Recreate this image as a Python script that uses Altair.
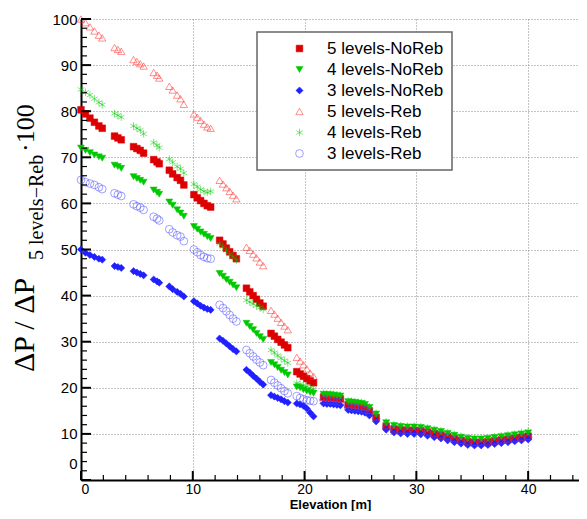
import altair as alt
import pandas as pd

# ---- data ----
elevation = [0, 0.4, 0.8, 1.2, 1.6, 1.9, 3.0, 3.3, 3.6, 4.7, 5.0, 5.3, 5.6, 6.5, 6.8, 7.0,
             7.9, 8.2, 8.6, 8.9, 9.2, 10.1, 10.4, 10.7, 11.0, 11.3, 11.6,
             12.4, 12.7, 13.0, 13.3, 13.6, 13.9, 14.8, 15.1, 15.4, 15.7, 16.0, 16.3,
             17.0, 17.3, 17.6, 17.9, 18.2, 18.5, 19.3, 19.6, 19.9, 20.2, 20.5, 20.8,
             21.7, 22.0, 22.3, 22.6, 22.9, 23.2, 23.9, 24.2, 24.5, 24.8, 25.1, 25.4,
             25.8, 26.4, 27.3, 28.0, 28.6, 29.2, 29.8, 30.4, 31.0, 31.6, 32.2, 32.8,
             33.4, 34.0, 34.6, 35.2, 35.8, 36.4, 37.0, 37.6, 38.2, 38.8, 39.4, 40.0]

series_names = ["5 levels-NoReb", "4 levels-NoReb", "3 levels-NoReb",
                "5 levels-Reb", "4 levels-Reb", "3 levels-Reb"]

l5_noreb = [80.3, 79.4, 78.5, 77.6, 76.8, 76.3, 74.6, 74.2, 73.8, 72.3, 71.9, 71.5, 70.9,
            69.5, 69.0, 68.6, 67.2, 66.4, 65.6, 65.0, 64.0, 61.9, 61.2, 60.6, 60.0, 59.5, 59.2,
            52.0, 51.2, 50.3, 49.5, 48.7, 48.0, 41.6, 40.8, 40.0, 39.2, 38.4, 37.7,
            31.8, 31.2, 30.5, 29.9, 29.3, 28.7, 23.5, 23.0, 22.5, 22.0, 21.5, 21.1,
            18.0, 17.9, 17.9, 17.8, 17.7, 17.6, 16.3, 16.2, 16.1, 16.0, 15.9, 15.7,
            15.0, 13.6, 11.7, 11.1, 10.9, 10.8, 10.8, 10.7, 10.4, 10.1, 9.8, 9.4,
            9.0, 8.6, 8.3, 8.2, 8.2, 8.3, 8.5, 8.7, 8.9, 9.1, 9.3, 9.5]

l4_noreb = [72.0, 71.5, 71.0, 70.5, 70.1, 69.8, 68.3, 68.0, 67.6, 65.8, 65.4, 65.0, 64.6,
            62.9, 62.4, 62.0, 60.3, 59.6, 58.6, 57.9, 57.2, 55.0, 54.4, 53.8, 53.3, 52.8, 52.4,
            44.8, 44.2, 43.5, 42.9, 42.3, 41.7, 34.0, 33.3, 32.6, 31.8, 31.1, 30.5,
            25.5, 25.0, 24.4, 23.8, 23.3, 22.8, 20.2, 20.0, 19.6, 19.3, 19.0, 18.8,
            18.6, 18.5, 18.5, 18.4, 18.3, 18.2, 17.0, 16.9, 16.8, 16.7, 16.6, 16.4,
            15.7, 14.3, 12.4, 11.8, 11.6, 11.5, 11.5, 11.4, 11.1, 10.8, 10.5, 10.1,
            9.7, 9.3, 9.0, 8.9, 8.9, 9.0, 9.2, 9.4, 9.6, 9.8, 10.0, 10.2]

l3_noreb = [50.0, 49.3, 48.8, 48.4, 48.0, 47.8, 46.4, 46.2, 46.0, 45.3, 45.0, 44.7, 44.4,
            43.5, 43.1, 42.8, 42.0, 41.4, 40.8, 40.4, 39.8, 38.8, 38.3, 37.8, 37.4, 37.1, 36.9,
            30.7, 30.2, 29.6, 29.0, 28.4, 27.9, 23.9, 23.3, 22.6, 22.0, 21.3, 20.7,
            18.4, 18.1, 17.8, 17.5, 17.1, 16.8, 16.6, 16.4, 16.1, 15.5, 14.6, 13.8,
            16.6, 16.5, 16.5, 16.4, 16.3, 16.2, 15.2, 15.1, 15.0, 14.9, 14.8, 14.6,
            14.0, 12.7, 10.9, 10.3, 10.1, 10.0, 10.0, 9.9, 9.6, 9.3, 9.0, 8.6,
            8.2, 7.9, 7.6, 7.5, 7.5, 7.6, 7.8, 8.0, 8.2, 8.4, 8.6, 8.8]

l5_reb = [100.0, 99.2, 98.3, 97.4, 96.5, 95.9, 93.8, 93.4, 93.0, 91.2, 90.8, 90.3, 89.8,
          88.4, 87.8, 87.2, 85.4, 84.6, 83.5, 82.7, 81.5, 79.4, 78.7, 78.0, 77.2, 76.6, 76.3,
          65.0, 64.2, 63.4, 62.6, 61.8, 61.0, 50.5, 49.8, 49.0, 48.2, 47.3, 46.5,
          36.8, 36.0, 35.1, 34.2, 33.4, 32.6, 26.6, 25.8, 25.0, 24.1, 23.2, 22.5,
          18.0, 17.9, 17.8, 17.8, 17.7, 17.6, 16.4, 16.3, 16.2, 16.1, 16.0, 15.8,
          15.1, 13.7, 11.8, 11.1, 10.9, 10.8, 10.8, 10.7, 10.4, 10.1, 9.7, 9.4,
          9.0, 8.6, 8.3, 8.2, 8.2, 8.3, 8.5, 8.7, 8.9, 9.1, 9.3, 9.5]

l4_reb = [84.7, 84.1, 83.5, 82.7, 81.9, 81.4, 79.5, 79.1, 78.7, 76.8, 76.3, 75.9, 75.1,
          73.2, 72.6, 72.1, 69.6, 68.9, 68.0, 67.5, 66.6, 64.2, 63.6, 63.0, 62.6, 62.4, 62.6,
          51.3, 50.6, 49.8, 49.0, 48.4, 47.7, 39.0, 38.6, 38.2, 37.8, 37.4, 37.0,
          28.2, 27.6, 27.0, 26.4, 25.9, 25.4, 21.0, 20.8, 20.5, 20.3, 20.0, 19.8,
          18.8, 18.7, 18.7, 18.6, 18.5, 18.4, 17.2, 17.1, 17.0, 16.9, 16.8, 16.6,
          15.9, 14.5, 12.6, 12.0, 11.8, 11.7, 11.7, 11.6, 11.3, 11.0, 10.7, 10.3,
          9.9, 9.5, 9.2, 9.1, 9.1, 9.2, 9.4, 9.6, 9.8, 10.0, 10.3, 10.6]

l3_reb = [65.1, 64.6, 64.3, 64.0, 63.5, 63.1, 62.2, 61.9, 61.6, 59.8, 59.4, 59.1, 58.6,
          57.1, 56.7, 56.3, 54.4, 53.7, 53.1, 52.8, 51.8, 50.0, 49.4, 48.8, 48.4, 48.1, 48.0,
          38.0, 37.3, 36.6, 35.8, 35.0, 34.4, 28.2, 27.5, 26.8, 26.1, 25.5, 24.9,
          21.7, 21.1, 20.5, 19.9, 19.3, 18.8, 18.2, 17.8, 17.5, 17.3, 17.2, 17.1,
          17.3, 17.2, 17.2, 17.1, 17.0, 16.9, 15.8, 15.7, 15.6, 15.5, 15.4, 15.2,
          14.6, 13.3, 11.4, 10.8, 10.6, 10.5, 10.5, 10.4, 10.1, 9.8, 9.5, 9.1,
          8.7, 8.3, 8.0, 7.9, 7.9, 8.0, 8.2, 8.4, 8.6, 8.8, 9.0, 9.2]

x_ticks = [0, 10, 20, 30, 40]
y_ticks = [0, 10, 20, 30, 40, 50, 60, 70, 80, 90, 100]
x_minor = [2, 4, 6, 8, 12, 14, 16, 18, 22, 24, 26, 28, 32, 34, 36, 38, 42, 44]
y_minor = [2, 4, 6, 8, 12, 14, 16, 18, 22, 24, 26, 28, 32, 34, 36, 38, 42, 44, 46, 48,
           52, 54, 56, 58, 62, 64, 66, 68, 72, 74, 76, 78, 82, 84, 86, 88, 92, 94, 96, 98]

all_series = [l5_noreb, l4_noreb, l3_noreb, l5_reb, l4_reb, l3_reb]
for s in all_series:
    assert len(s) == len(elevation), len(s)

rows = []
for name, vals in zip(series_names, all_series):
    for e, v in zip(elevation, vals):
        rows.append({"elev": e, "val": v, "series": name})
df = pd.DataFrame(rows)

# ---- styling ----
W, H = 498, 461
FONT = "Liberation Sans"
SERIF = "Liberation Serif"
asterisk = "M0,-1L0,1M-0.87,-0.5L0.87,0.5M-0.87,0.5L0.87,-0.5"
shapes = ["square", "triangle-down", "diamond", "triangle-up", asterisk, "circle"]
strokes = ["#dd0000", "#00c800", "#1f1fff", "#ff2020", "#00c800", "#4040ff"]
fills = ["#dd0000", "#00c800", "#1f1fff", "transparent", "transparent", "transparent"]
sizes = [45, 60, 60, 100, 70, 100]
widths = [0.5, 0.5, 0.5, 1.3, 1.6, 1.2]

xs = alt.Scale(domain=[0, 44.55], nice=False, zero=False)
ys = alt.Scale(domain=[0, 100], nice=False)

pad = "\u00a0" * 9
legend = alt.Legend(
    title=None, orient="none", legendX=176, legendY=13,
    fillColor="white", strokeColor="#666666", padding=8,
    symbolOffset=26, labelOffset=19, labelFontSize=17, labelFont=FONT,
    labelColor="black", rowPadding=3, labelLimit=400,
    labelExpr="datum.label + '" + pad + "'",
)

pts = alt.Chart(df).mark_point(opacity=1).encode(
    x=alt.X("elev:Q", scale=xs, axis=alt.Axis(
        values=x_ticks, grid=True, gridDash=[1, 2], gridColor="#8a8a8a", gridWidth=1,
        ticks=False, domainColor="black", domainWidth=2,
        labelFont=FONT, labelFontSize=14, labelColor="black", labelPadding=2,
        title="Elevation [m]", titleFont=FONT, titleFontSize=13, titleFontWeight="bold",
        titleColor="black", titleY=28, titleBaseline="alphabetic")),
    y=alt.Y("val:Q", scale=ys, axis=alt.Axis(
        values=y_ticks, grid=True, gridDash=[1, 2], gridColor="#8a8a8a", gridWidth=1,
        ticks=False, domainColor="black", domainWidth=2,
        labelFont=FONT, labelFontSize=15, labelColor="black", labelPadding=4,
        labelOffset=alt.expr("datum.value == 0 ? -17 : 0"), title=None)),
    shape=alt.Shape("series:N", scale=alt.Scale(domain=series_names, range=shapes), legend=legend),
    stroke=alt.Stroke("series:N", scale=alt.Scale(domain=series_names, range=strokes), legend=legend),
    fill=alt.Fill("series:N", scale=alt.Scale(domain=series_names, range=fills), legend=legend),
    size=alt.Size("series:N", scale=alt.Scale(domain=series_names, range=sizes), legend=legend),
    strokeWidth=alt.StrokeWidth("series:N", scale=alt.Scale(domain=series_names, range=widths), legend=legend),
)

ymaj = alt.Chart(pd.DataFrame({"v": y_ticks})).mark_rule(color="black", strokeWidth=2).encode(
    y=alt.Y("v:Q", scale=ys), x=alt.value(0), x2=alt.value(10))
ymin = alt.Chart(pd.DataFrame({"v": y_minor})).mark_rule(color="black", strokeWidth=1.2).encode(
    y=alt.Y("v:Q", scale=ys), x=alt.value(0), x2=alt.value(6))
xmaj = alt.Chart(pd.DataFrame({"v": x_ticks})).mark_rule(color="black", strokeWidth=2).encode(
    x=alt.X("v:Q", scale=xs), y=alt.value(H), y2=alt.value(H - 9))
xmin = alt.Chart(pd.DataFrame({"v": x_minor})).mark_rule(color="black", strokeWidth=1.2).encode(
    x=alt.X("v:Q", scale=xs), y=alt.value(H), y2=alt.value(H - 5))

one = alt.Data(values=[{"a": 1}])
t_main = alt.Chart(one).mark_text(
    text="ΔP / ΔP", font=SERIF, fontSize=30, angle=270, align="left",
    baseline="alphabetic", color="black").encode(x=alt.value(-47), y=alt.value(353))
t_sub = alt.Chart(one).mark_text(
    text="5 levels\u2212Reb", font=SERIF, fontSize=20, angle=270, align="left",
    baseline="alphabetic", color="black").encode(x=alt.value(-38), y=alt.value(241))
t_end = alt.Chart(one).mark_text(
    text="\u00b7100", font=SERIF, fontSize=26, angle=270, align="left",
    baseline="alphabetic", color="black").encode(x=alt.value(-47), y=alt.value(133))

chart = alt.layer(pts, ymaj, ymin, xmaj, xmin, t_main, t_sub, t_end).properties(
    width=W, height=H,
    autosize=alt.AutoSizeParams(type="none"),
    padding={"left": 73, "top": 11, "right": 0, "bottom": 31},
).configure_view(stroke=None).configure_legend(strokeWidth=1.5)

chart.save("out.html", embed_options={"renderer": "svg", "actions": False})
